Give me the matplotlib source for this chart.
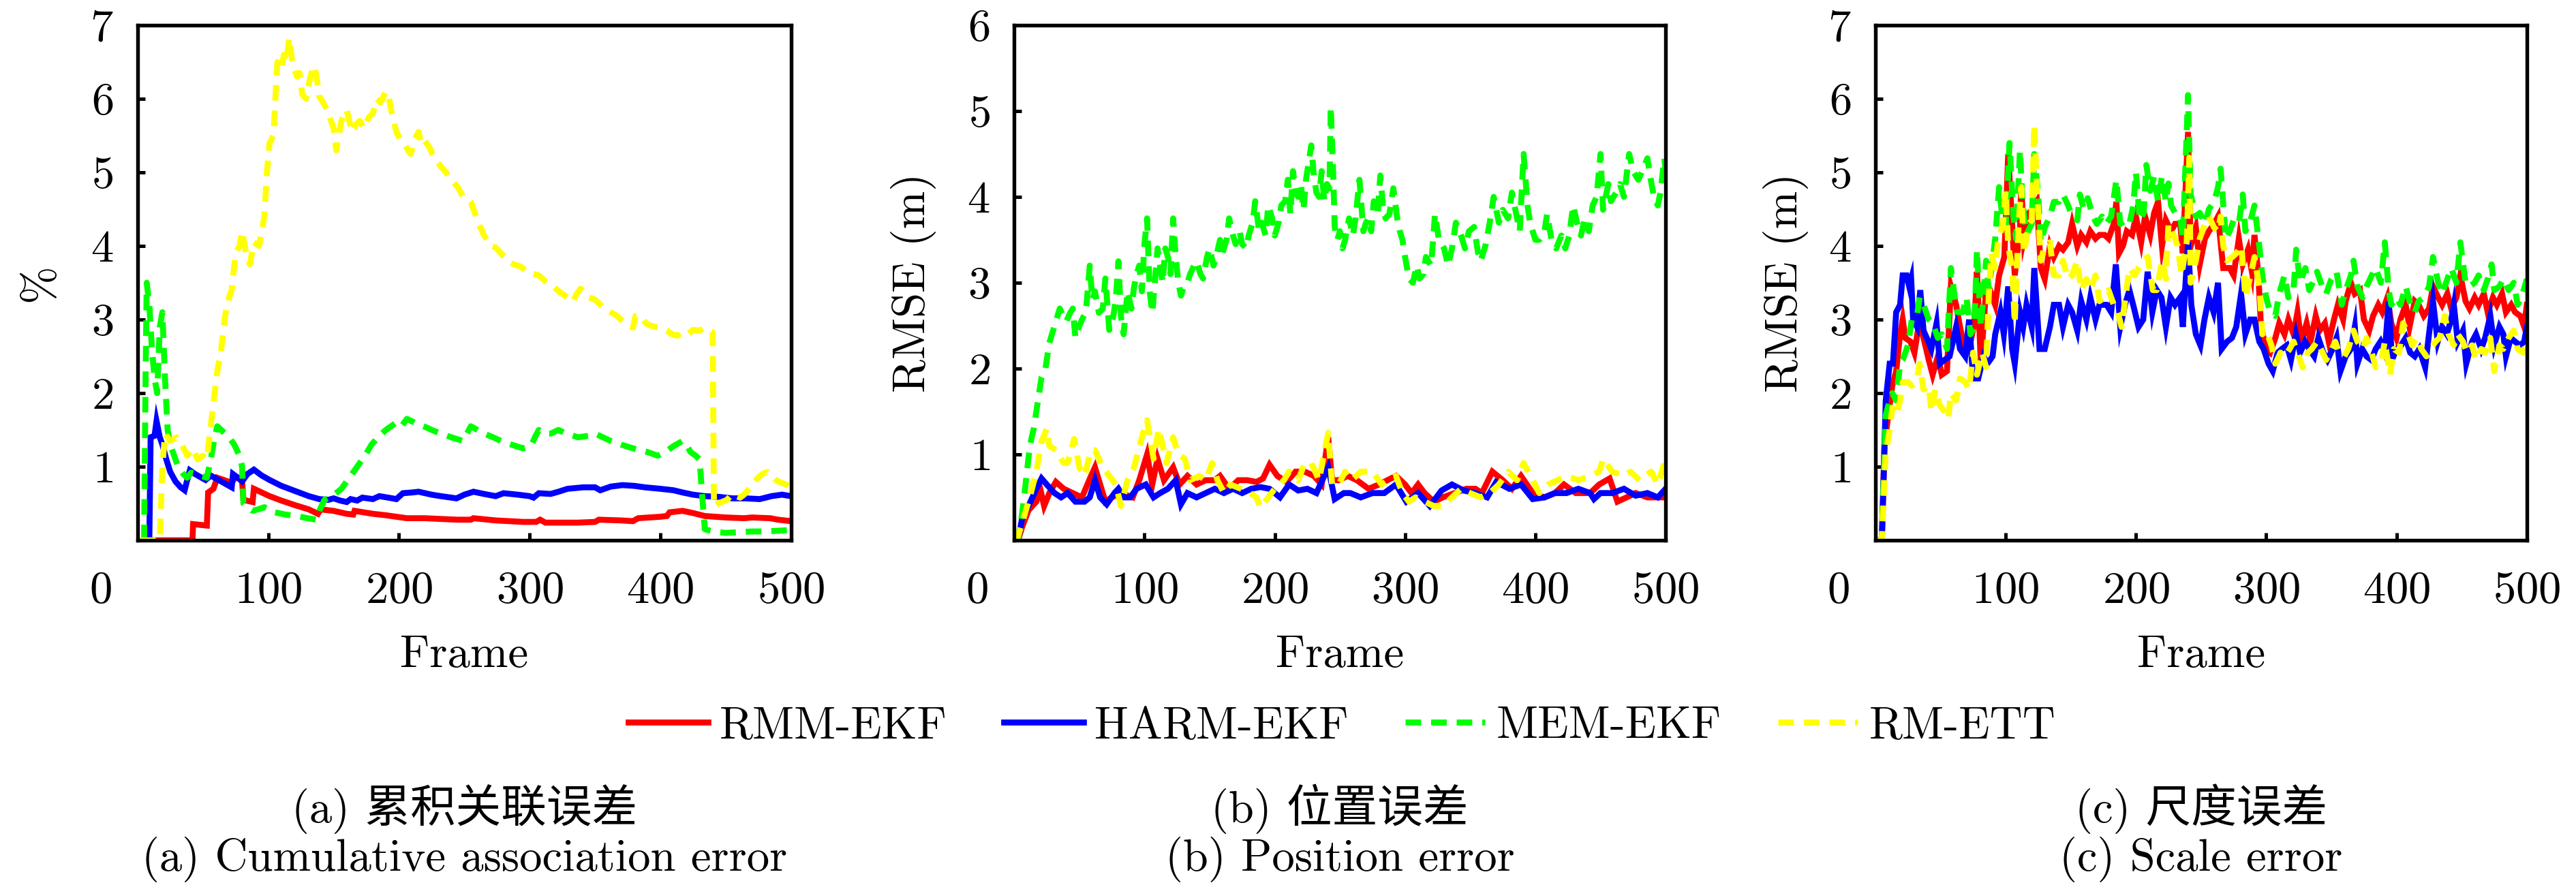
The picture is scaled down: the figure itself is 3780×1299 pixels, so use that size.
import matplotlib
matplotlib.use('Agg')
import matplotlib.pyplot as plt
from matplotlib.lines import Line2D

plt.rcParams['font.family'] = ['cmr10', 'Noto Sans CJK SC']
plt.rcParams['mathtext.fontset'] = 'cm'
plt.rcParams['axes.formatter.use_mathtext'] = True
plt.rcParams['lines.scale_dashes'] = False

# ---------------- data (frame, value) ----------------
methods = ['RMM-EKF', 'HARM-EKF', 'MEM-EKF', 'RM-ETT']
colors = ['#FF0000', '#0000FF', '#00FF00', '#FFFF00']
styles = ['solid', 'solid', 'dashed', 'dashed']

x_ticks = [100, 200, 300, 400, 500]
panel_ymax = [7, 6, 7]
panel_ylabels = ['%', 'RMSE (m)', 'RMSE (m)']
captions_cn = ['(a) 累积关联误差', '(b) 位置误差', '(c) 尺度误差']
captions_en = ['(a) Cumulative association error', '(b) Position error', '(c) Scale error']

# (a) cumulative association error
a_rmm = [(10, 0), (42, 0), (42.5, 0.22), (53, 0.2), (54, 0.65), (58, 0.7), (61, 0.85), (66, 0.82), (72, 0.78),
         (75, 0.86), (78, 0.85), (80, 0.8), (81, 0.55), (88, 0.52), (89, 0.7), (95, 0.65), (101, 0.6), (110, 0.54),
         (120, 0.48), (131, 0.42), (138, 0.36), (140, 0.42), (150, 0.4), (160, 0.36), (165, 0.35), (166, 0.4),
         (180, 0.36), (190, 0.34), (206, 0.3), (220, 0.3), (232, 0.29), (245, 0.28), (255, 0.28), (257, 0.3),
         (274, 0.27), (295, 0.25), (305, 0.25), (308, 0.28), (312, 0.24), (337, 0.24), (350, 0.25), (353, 0.28),
         (370, 0.27), (379, 0.26), (383, 0.3), (400, 0.32), (405, 0.33), (407, 0.38), (417, 0.4), (425, 0.37),
         (434, 0.33), (450, 0.31), (464, 0.3), (470, 0.31), (484, 0.3), (490, 0.28), (500, 0.26)]
a_harm = [(9, 0), (10, 1.4), (13, 1.42), (14.5, 1.62), (17, 1.4), (19, 1.3), (22, 1.1), (25, 0.93), (29, 0.8),
          (33, 0.72), (36, 0.68), (38, 0.82), (40, 0.95), (44, 0.9), (48, 0.86), (52, 0.82), (56, 0.88), (60, 0.84),
          (64, 0.8), (68, 0.76), (72, 0.72), (73, 0.9), (76, 0.86), (80, 0.8), (84, 0.9), (89, 0.96), (95, 0.88),
          (101, 0.82), (110, 0.74), (122, 0.66), (131, 0.6), (139, 0.56), (146, 0.55), (150, 0.57), (155, 0.54),
          (160, 0.52), (163, 0.56), (168, 0.54), (172, 0.58), (180, 0.56), (185, 0.6), (195, 0.57), (198, 0.56),
          (203, 0.64), (210, 0.65), (215, 0.66), (225, 0.62), (232, 0.6), (244, 0.57), (250, 0.62), (257, 0.66),
          (265, 0.63), (274, 0.6), (280, 0.64), (291, 0.62), (300, 0.6), (303, 0.58), (307, 0.64), (316, 0.63),
          (322, 0.66), (329, 0.7), (341, 0.72), (350, 0.72), (354, 0.68), (362, 0.73), (371, 0.75), (380, 0.74),
          (388, 0.72), (400, 0.7), (410, 0.68), (417, 0.65), (425, 0.62), (434, 0.6), (445, 0.59), (455, 0.57),
          (465, 0.57), (476, 0.56), (485, 0.6), (493, 0.62), (500, 0.6)]
a_mem = [(5, 0), (6, 2.0), (7, 3.5), (9, 3.2), (11, 2.6), (13, 2.2), (15, 2.0), (17, 2.9), (19, 3.1), (21, 2.2),
         (23, 1.5), (25, 1.3), (27, 1.2), (31, 1.0), (35, 0.9), (38, 0.85), (41, 0.92), (44, 0.9), (48, 0.88),
         (53, 0.85), (56, 1.1), (59, 1.4), (61, 1.55), (64, 1.5), (67, 1.45), (70, 1.4), (74, 1.3), (78, 1.15),
         (80, 1.0), (81, 0.5), (84, 0.45), (88, 0.4), (92, 0.42), (97, 0.45), (101, 0.42), (105, 0.38), (113, 0.35),
         (122, 0.33), (130, 0.3), (137, 0.28), (139, 0.4), (143, 0.55), (149, 0.6), (156, 0.7), (162, 0.85),
         (168, 1.0), (174, 1.15), (179, 1.3), (185, 1.42), (190, 1.5), (198, 1.6), (202, 1.55), (206, 1.65),
         (212, 1.6), (219, 1.55), (225, 1.5), (232, 1.45), (240, 1.4), (249, 1.35), (252, 1.45), (255, 1.55),
         (260, 1.5), (265, 1.45), (272, 1.4), (278, 1.35), (286, 1.3), (295, 1.25), (301, 1.28), (304, 1.4),
         (307, 1.5), (312, 1.45), (316, 1.45), (322, 1.5), (328, 1.45), (337, 1.4), (345, 1.42), (350, 1.45),
         (356, 1.4), (362, 1.35), (370, 1.3), (379, 1.25), (390, 1.2), (398, 1.15), (404, 1.2), (410, 1.28),
         (417, 1.35), (420, 1.3), (423, 1.2), (427, 1.15), (430, 1.1), (432, 0.6), (434, 0.15), (440, 0.12),
         (450, 0.1), (460, 0.11), (470, 0.12), (480, 0.12), (490, 0.13), (500, 0.14)]
a_rmett = [(2, 0), (17, 0), (19, 1.0), (21, 1.45), (25, 1.35), (30, 1.4), (34, 1.3), (38, 1.15), (42, 1.25),
           (46, 1.1), (50, 1.15), (53, 1.1), (57, 1.7), (61, 2.3), (64, 2.6), (67, 3.05), (70, 3.3), (72, 3.4),
           (75, 3.9), (78, 4.0), (80, 4.2), (83, 3.9), (86, 3.75), (89, 4.05), (93, 4.0), (97, 4.4), (99, 5.0),
           (101, 5.4), (104, 5.5), (105, 5.85), (107, 6.5), (110, 6.4), (112, 6.6), (114, 6.5), (116, 6.83),
           (118, 6.55), (120, 6.4), (122, 6.3), (124, 6.35), (126, 6.06), (129, 6.0), (131, 6.2), (133, 6.35),
           (135, 6.45), (137, 6.3), (139, 6.03), (142, 5.95), (145, 5.85), (148, 5.7), (150, 5.6), (152, 5.3),
           (154, 5.5), (156, 5.7), (158, 5.8), (160, 5.85), (162, 5.7), (164, 5.55), (167, 5.65), (170, 5.7),
           (173, 5.6), (177, 5.75), (180, 5.8), (183, 6.0), (186, 5.95), (190, 6.1), (192, 6.05), (194, 5.85),
           (196, 5.7), (198, 5.55), (201, 5.45), (204, 5.4), (207, 5.3), (209, 5.25), (212, 5.45), (215, 5.55),
           (217, 5.4), (219, 5.45), (223, 5.35), (227, 5.2), (232, 5.08), (236, 5.0), (240, 4.9), (245, 4.8),
           (249, 4.67), (252, 4.65), (255, 4.6), (258, 4.45), (261, 4.3), (265, 4.15), (270, 4.0), (274, 3.98),
           (278, 3.9), (281, 3.85), (284, 3.78), (288, 3.75), (293, 3.72), (296, 3.68), (299, 3.63), (303, 3.62),
           (307, 3.6), (312, 3.52), (316, 3.48), (320, 3.42), (324, 3.36), (329, 3.3), (333, 3.24), (336, 3.35),
           (339, 3.42), (342, 3.35), (345, 3.3), (349, 3.28), (352, 3.24), (357, 3.15), (362, 3.1), (367, 3.05),
           (371, 2.98), (375, 2.92), (379, 2.89), (381, 3.05), (385, 3.05), (389, 2.95), (392, 2.92), (396, 2.9),
           (400, 2.89), (405, 2.85), (409, 2.8), (413, 2.78), (417, 2.83), (421, 2.8), (425, 2.86), (430, 2.85),
           (434, 2.89), (438, 2.85), (440, 2.83), (441, 0.46), (444, 0.5), (447, 0.52), (451, 0.55), (455, 0.63),
           (458, 0.6), (461, 0.58), (464, 0.62), (468, 0.7), (471, 0.75), (474, 0.84), (478, 0.9), (482, 0.93),
           (485, 0.88), (489, 0.81), (493, 0.78), (497, 0.75), (500, 0.72)]

# (b) position error
b_rmm = [(0, 0), (3, 0), (6, 0.15), (11, 0.35), (17, 0.45), (20, 0.6), (23, 0.4), (27, 0.55), (32, 0.68),
         (38, 0.6), (45, 0.55), (52, 0.5), (59, 0.75), (62, 0.85), (66, 0.65), (70, 0.45), (75, 0.5), (82, 0.55),
         (91, 0.5), (96, 0.7), (102, 1.0), (106, 0.65), (110, 0.95), (115, 0.7), (122, 0.85), (127, 0.65),
         (133, 0.75), (140, 0.65), (147, 0.7), (154, 0.7), (158, 0.75), (165, 0.6), (172, 0.7), (179, 0.7),
         (186, 0.68), (191, 0.72), (196, 0.88), (202, 0.75), (209, 0.68), (216, 0.8), (223, 0.8), (230, 0.75),
         (236, 0.65), (241, 1.2), (244, 0.7), (249, 0.7), (256, 0.75), (263, 0.7), (272, 0.6), (280, 0.65),
         (293, 0.75), (300, 0.65), (305, 0.55), (310, 0.65), (315, 0.55), (322, 0.45), (329, 0.5), (338, 0.55),
         (347, 0.6), (354, 0.6), (359, 0.55), (367, 0.8), (375, 0.7), (382, 0.6), (389, 0.75), (398, 0.55),
         (407, 0.5), (415, 0.55), (422, 0.65), (431, 0.55), (442, 0.55), (449, 0.65), (457, 0.72), (463, 0.45),
         (470, 0.5), (477, 0.55), (486, 0.5), (494, 0.5), (500, 0.5)]
b_harm = [(0, 0), (3, 0), (6, 0.25), (11, 0.4), (17, 0.6), (21, 0.72), (25, 0.65), (31, 0.55), (36, 0.5),
          (41, 0.55), (47, 0.45), (54, 0.45), (58, 0.5), (62, 0.7), (66, 0.5), (71, 0.42), (77, 0.55), (80, 0.6),
          (84, 0.5), (89, 0.5), (94, 0.6), (101, 0.65), (107, 0.5), (112, 0.55), (118, 0.6), (124, 0.7),
          (128, 0.42), (133, 0.55), (140, 0.5), (147, 0.55), (154, 0.6), (161, 0.55), (168, 0.6), (175, 0.55),
          (182, 0.6), (189, 0.62), (196, 0.6), (204, 0.5), (211, 0.65), (218, 0.58), (225, 0.6), (232, 0.55),
          (241, 0.85), (246, 0.48), (253, 0.55), (258, 0.55), (266, 0.5), (275, 0.55), (284, 0.55), (293, 0.65),
          (301, 0.45), (310, 0.55), (319, 0.4), (328, 0.58), (336, 0.65), (345, 0.58), (354, 0.55), (363, 0.5),
          (370, 0.68), (380, 0.6), (389, 0.65), (398, 0.48), (407, 0.5), (415, 0.55), (424, 0.55), (433, 0.6),
          (442, 0.55), (445, 0.48), (450, 0.55), (459, 0.55), (468, 0.6), (477, 0.52), (486, 0.55), (494, 0.5),
          (500, 0.6)]
b_mem = [(0, 0), (3, 0), (6, 0.3), (8, 0.55), (12, 1.1), (15, 1.3), (18, 1.6), (21, 1.9), (24, 2.0), (27, 2.3),
         (32, 2.55), (35, 2.7), (38, 2.6), (40, 2.55), (43, 2.65), (45, 2.7), (47, 2.36), (50, 2.5), (53, 2.6),
         (55, 2.65), (58, 3.2), (60, 2.8), (62, 2.9), (65, 2.65), (68, 2.7), (70, 3.05), (73, 2.45), (76, 2.6),
         (78, 2.8), (80, 3.25), (82, 2.6), (84, 2.4), (87, 2.9), (90, 2.7), (92, 2.95), (94, 3.1), (96, 3.2),
         (98, 2.9), (100, 3.45), (102, 3.75), (104, 2.9), (106, 2.65), (108, 3.0), (110, 3.4), (112, 3.2),
         (114, 3.0), (116, 3.4), (118, 3.3), (120, 3.1), (122, 3.75), (124, 3.3), (126, 3.0), (128, 2.85),
         (130, 2.95), (133, 3.0), (135, 3.1), (138, 3.2), (140, 3.25), (143, 3.1), (145, 3.05), (148, 3.3),
         (150, 3.4), (153, 3.2), (155, 3.3), (158, 3.5), (160, 3.35), (163, 3.5), (165, 3.75), (168, 3.55),
         (170, 3.45), (173, 3.6), (175, 3.45), (178, 3.4), (180, 3.55), (183, 3.7), (185, 3.95), (188, 3.6),
         (190, 3.7), (193, 3.55), (195, 3.9), (198, 3.75), (200, 3.55), (203, 3.7), (205, 3.9), (208, 3.95),
         (210, 4.2), (212, 3.8), (214, 4.3), (216, 4.05), (218, 4.0), (220, 4.15), (222, 3.85), (224, 4.2),
         (226, 4.4), (228, 4.6), (230, 4.25), (232, 4.05), (234, 4.0), (236, 4.3), (238, 3.95), (240, 4.15),
         (242, 4.1), (243, 5.05), (245, 4.2), (246, 3.65), (248, 3.5), (250, 3.6), (252, 3.4), (254, 3.5),
         (257, 3.75), (260, 3.55), (262, 3.75), (265, 4.2), (268, 3.6), (270, 3.7), (272, 3.75), (274, 3.6),
         (276, 3.95), (279, 3.8), (281, 4.25), (283, 3.9), (285, 3.75), (288, 3.8), (291, 4.1), (294, 3.75),
         (296, 3.6), (298, 3.5), (300, 3.3), (303, 3.05), (306, 3.0), (309, 3.2), (311, 3.05), (314, 3.1),
         (316, 3.3), (320, 3.2), (323, 3.8), (326, 3.5), (330, 3.4), (333, 3.2), (336, 3.4), (339, 3.7),
         (343, 3.55), (346, 3.4), (349, 3.6), (353, 3.65), (356, 3.35), (358, 3.25), (362, 3.45), (365, 3.7),
         (368, 4.0), (372, 3.7), (375, 3.85), (379, 3.75), (382, 4.05), (386, 3.75), (388, 3.6), (391, 4.5),
         (394, 3.9), (396, 3.7), (400, 3.5), (403, 3.5), (407, 3.6), (409, 3.8), (413, 3.45), (416, 3.4),
         (420, 3.55), (423, 3.4), (426, 3.55), (429, 3.9), (432, 3.7), (435, 3.55), (438, 3.75), (441, 3.6),
         (444, 3.9), (447, 4.0), (450, 4.5), (452, 3.85), (456, 4.15), (458, 3.95), (462, 4.05), (465, 4.15),
         (468, 4.0), (472, 4.5), (475, 4.3), (479, 4.2), (482, 4.3), (486, 4.45), (488, 4.25), (491, 4.0),
         (494, 3.9), (496, 4.05), (499, 4.45), (500, 4.3)]
b_rmett = [(0, 0), (2, 0), (6, 0.2), (12, 0.5), (17, 0.8), (21, 1.15), (25, 1.3), (27, 1.1), (32, 1.05),
           (38, 0.9), (41, 0.9), (46, 1.18), (50, 0.85), (54, 0.75), (59, 1.05), (62, 1.05), (68, 0.85),
           (73, 0.75), (78, 0.65), (82, 0.4), (87, 0.7), (92, 0.85), (98, 1.2), (102, 1.4), (107, 0.95),
           (111, 1.3), (117, 0.9), (122, 1.2), (126, 1.0), (131, 0.95), (135, 0.7), (142, 0.75), (147, 0.7),
           (152, 0.9), (156, 0.7), (161, 0.55), (166, 0.65), (174, 0.6), (181, 0.55), (186, 0.5), (189, 0.38),
           (195, 0.5), (200, 0.6), (207, 0.7), (211, 0.8), (218, 0.7), (223, 0.9), (228, 0.9), (234, 0.7),
           (241, 1.25), (244, 0.65), (249, 0.65), (254, 0.8), (259, 0.7), (266, 0.8), (275, 0.8), (282, 0.65),
           (287, 0.7), (293, 0.75), (298, 0.55), (303, 0.45), (308, 0.5), (315, 0.45), (322, 0.4), (329, 0.4),
           (336, 0.5), (343, 0.6), (350, 0.55), (358, 0.5), (365, 0.55), (372, 0.65), (379, 0.8), (386, 0.7),
           (391, 0.9), (398, 0.7), (403, 0.55), (410, 0.65), (417, 0.7), (424, 0.75), (433, 0.7), (442, 0.75),
           (449, 0.8), (452, 0.95), (459, 0.8), (468, 0.75), (473, 0.8), (480, 0.7), (489, 0.8), (494, 0.65),
           (500, 0.95)]

# (c) scale error
c_rmm = [(0, 0), (5, 0), (7, 1.3), (10, 1.7), (13, 2.1), (16, 2.3), (19, 2.8), (21, 3.0), (23, 2.75), (27, 2.7),
         (30, 2.55), (34, 3.0), (37, 2.75), (41, 2.45), (44, 2.25), (48, 2.5), (51, 2.25), (55, 2.3), (58, 3.45),
         (62, 3.2), (65, 2.9), (69, 2.55), (72, 2.6), (76, 2.95), (78, 3.65), (81, 2.4), (85, 3.4), (88, 3.4),
         (92, 3.2), (95, 3.6), (99, 3.85), (102, 5.25), (105, 4.3), (107, 3.6), (111, 4.2), (112, 4.85),
         (114, 4.1), (118, 4.45), (121, 4.5), (124, 4.6), (127, 3.7), (130, 3.55), (134, 4.0), (137, 3.85),
         (141, 4.0), (144, 3.95), (148, 4.05), (151, 4.3), (155, 4.0), (158, 4.15), (162, 4.05), (165, 4.2),
         (169, 4.1), (172, 4.15), (176, 4.15), (179, 4.1), (183, 4.3), (185, 4.6), (187, 3.9), (190, 4.0),
         (193, 4.2), (197, 4.15), (200, 4.4), (204, 4.05), (207, 4.4), (211, 4.15), (214, 4.45), (217, 4.6),
         (220, 4.0), (223, 4.35), (227, 4.2), (230, 4.3), (234, 4.3), (236, 3.9), (240, 5.55), (242, 4.0),
         (246, 4.25), (249, 3.75), (253, 4.1), (256, 4.2), (260, 4.3), (263, 4.4), (267, 3.7), (272, 3.7),
         (275, 3.6), (279, 4.1), (282, 3.75), (286, 3.95), (289, 3.65), (291, 4.15), (294, 3.6), (296, 2.9),
         (300, 2.6), (303, 2.55), (307, 2.75), (310, 2.95), (314, 2.8), (317, 3.0), (321, 2.8), (324, 3.1),
         (327, 2.7), (331, 2.95), (334, 2.7), (338, 3.05), (341, 2.85), (345, 2.95), (348, 2.7), (352, 3.0),
         (355, 3.2), (359, 3.0), (361, 3.25), (365, 3.5), (368, 3.35), (372, 3.4), (375, 3.0), (379, 2.85),
         (382, 3.05), (386, 3.2), (389, 3.1), (393, 3.3), (396, 2.95), (400, 2.75), (403, 3.0), (407, 3.2),
         (410, 2.9), (414, 3.25), (417, 3.2), (421, 3.05), (425, 3.15), (428, 3.45), (432, 3.3), (435, 3.2),
         (439, 3.35), (442, 3.15), (446, 3.3), (449, 3.6), (453, 3.25), (456, 3.15), (460, 3.3), (463, 3.2),
         (467, 3.35), (470, 3.1), (474, 3.3), (477, 3.2), (481, 3.35), (484, 3.1), (488, 3.2), (491, 3.1),
         (495, 3.05), (498, 2.9), (500, 3.2)]
c_harm = [(0, 0), (5, 0), (6.5, 0.92), (8, 1.9), (11, 2.4), (13.5, 2.4), (16, 3.1), (19, 3.2), (21, 3.6),
          (24, 3.6), (26, 3.45), (27.5, 3.55), (29, 3.0), (32, 2.9), (34.5, 3.4), (37, 2.85), (40.7, 2.7),
          (43, 2.6), (47, 2.95), (49.5, 2.4), (53, 2.45), (57, 2.5), (62, 2.9), (65, 2.6), (69, 2.5), (72, 3.0),
          (75, 2.2), (79, 2.2), (83, 2.5), (86, 2.4), (90, 2.5), (92, 2.8), (96, 3.1), (98.6, 2.8), (102, 3.45),
          (105, 2.6), (107, 2.4), (111, 3.1), (113.5, 2.9), (116, 3.2), (120, 2.9), (122, 3.7), (126, 2.6),
          (130, 2.6), (134, 2.9), (137, 3.2), (141, 3.2), (144, 2.9), (148, 3.2), (151, 3.1), (155, 2.85),
          (158, 3.25), (162, 3.0), (165, 3.3), (169, 3.0), (172, 3.2), (177.5, 3.2), (181, 3.1), (184.6, 3.75),
          (188, 2.9), (191.6, 3.2), (195, 3.4), (198.6, 3.15), (202, 2.9), (205.6, 3.0), (209, 3.65),
          (212.6, 3.1), (216, 3.4), (219.6, 3.3), (223, 2.9), (226.6, 3.3), (230, 3.2), (234, 3.3), (236, 2.9),
          (240, 4.05), (242.5, 3.2), (246, 2.8), (249.5, 2.65), (252.6, 3.0), (256, 3.3), (259.6, 3.1),
          (263, 3.5), (265.8, 2.6), (270, 2.7), (273.7, 2.75), (277, 2.9), (280.7, 3.35), (284, 2.8),
          (287.7, 3.0), (291, 3.0), (294.7, 2.7), (298, 2.6), (301.8, 2.4), (305, 2.3), (308.8, 2.55),
          (312, 2.6), (315.8, 2.65), (319, 2.45), (322.8, 2.8), (326, 2.55), (329.8, 2.7), (333, 2.6),
          (336.8, 2.5), (340, 2.75), (343.8, 2.55), (347, 2.45), (350.9, 2.6), (354, 2.75), (357, 2.3),
          (361, 2.5), (365, 2.6), (368, 2.9), (370, 2.4), (373.7, 2.6), (377, 2.5), (380.7, 2.45), (384, 2.6),
          (387.7, 2.7), (391, 2.55), (394, 3.25), (396.5, 2.45), (400, 2.6), (403.5, 2.65), (407, 2.75),
          (410.5, 2.55), (414, 2.5), (417.5, 2.6), (422, 2.35), (424.6, 2.75), (428, 3.25), (431.6, 2.7),
          (435, 2.9), (438.6, 2.8), (442, 3.0), (444, 3.2), (447, 2.7), (451, 2.85), (453.5, 2.4), (458, 2.7),
          (461, 2.8), (465, 2.6), (468, 2.75), (472, 3.05), (475, 2.65), (479, 2.9), (482, 2.8), (484, 2.5),
          (487.7, 2.75), (491, 2.7), (494.7, 2.65), (498, 2.7), (500, 2.9)]
c_mem = [(0, 0), (5, 0), (6, 0.6), (8, 1.7), (11, 1.9), (13, 2.0), (16, 1.9), (19, 2.4), (21, 2.45), (25, 2.65),
         (28, 3.0), (32, 3.05), (34, 3.3), (37, 3.2), (41, 3.0), (44, 2.95), (48, 2.75), (51, 2.8), (55, 2.6),
         (58, 3.7), (61, 3.3), (63, 3.1), (67, 3.1), (70, 3.3), (73, 2.8), (76, 2.9), (78, 3.95), (81, 2.9),
         (85, 3.8), (87, 3.4), (90, 3.8), (92, 4.1), (95, 4.8), (98, 4.3), (100, 4.25), (103, 5.4), (106, 4.4),
         (108, 4.1), (111, 5.3), (113, 4.6), (116, 4.15), (120, 4.3), (122, 5.25), (125, 4.7), (127, 4.05),
         (130, 4.25), (134, 4.4), (137, 4.6), (141, 4.6), (144, 4.7), (148, 4.55), (151, 4.4), (155, 4.35),
         (157, 4.7), (160, 4.5), (163, 4.65), (167, 4.4), (170, 4.3), (174, 4.4), (177, 4.3), (181, 4.4),
         (185, 4.9), (188, 4.3), (192, 4.35), (195, 4.3), (198, 4.55), (200, 5.0), (203, 4.35), (206, 4.45),
         (208, 5.1), (211, 4.75), (214, 4.95), (217, 4.6), (220, 4.95), (223, 4.6), (225, 4.85), (227, 4.55),
         (230, 4.45), (234, 4.4), (236, 4.1), (240, 6.05), (242, 4.7), (246, 4.4), (249, 4.45), (253, 4.3),
         (256, 4.5), (260, 4.6), (263, 4.8), (265, 5.05), (269, 4.1), (272, 4.2), (275, 4.35), (279, 4.3),
         (282, 4.7), (284, 4.2), (288, 4.35), (291, 4.55), (295, 3.95), (297, 3.6), (300, 3.3), (303, 3.1),
         (307, 3.05), (310, 3.35), (314, 3.6), (317, 3.3), (321, 3.4), (323, 3.95), (326, 3.5), (330, 3.7),
         (333, 3.4), (337, 3.55), (339, 3.65), (343, 3.45), (346, 3.35), (350, 3.55), (354, 3.65), (358, 3.2),
         (361, 3.4), (365, 3.6), (367, 3.8), (370, 3.45), (374, 3.3), (377, 3.45), (381, 3.6), (384, 3.7),
         (388, 3.5), (391, 4.05), (394, 3.4), (396, 3.2), (400, 3.3), (403, 3.2), (407, 3.45), (410, 3.25),
         (414, 3.1), (417, 3.25), (421, 3.3), (425, 3.45), (428, 3.85), (432, 3.5), (435, 3.35), (439, 3.55),
         (442, 3.7), (446, 3.5), (449, 4.05), (453, 3.5), (456, 3.45), (460, 3.5), (463, 3.6), (467, 3.4),
         (470, 3.55), (473, 3.75), (475, 3.4), (479, 3.45), (482, 3.55), (486, 3.4), (490, 3.5), (493, 3.2),
         (496, 3.3), (500, 3.55)]
c_rmett = [(0, 0), (5, 0), (8, 1.2), (11, 1.5), (13, 1.8), (16, 1.7), (19, 1.9), (21, 2.15), (25, 2.15),
           (28, 2.1), (32, 2.2), (34, 2.4), (37, 2.05), (41, 2.1), (43, 1.75), (46, 2.05), (49, 1.85), (53, 1.75),
           (56, 1.65), (58, 2.0), (62, 1.9), (65, 2.2), (69, 2.15), (72, 2.05), (75, 2.55), (78, 2.25), (82, 2.55),
           (85, 2.35), (87, 3.3), (89, 3.9), (92, 3.7), (94, 4.05), (98, 4.3), (100, 4.75), (102, 4.0), (105, 3.7),
           (107, 2.95), (110, 4.3), (112, 4.8), (114, 3.9), (118, 4.3), (120, 4.35), (122, 5.65), (124, 4.8),
           (127, 3.8), (130, 4.0), (134, 4.05), (137, 3.6), (141, 3.6), (144, 3.8), (148, 3.55), (151, 3.6),
           (155, 3.8), (158, 3.4), (162, 3.55), (165, 3.4), (169, 3.6), (172, 3.25), (176, 3.3), (179, 3.4),
           (183, 3.2), (186, 3.1), (189, 2.9), (192, 3.3), (195, 3.7), (199, 3.6), (202, 3.7), (206, 3.8),
           (209, 3.85), (213, 3.4), (216, 3.4), (220, 3.8), (223, 3.55), (225, 4.3), (229, 4.15), (232, 4.0),
           (235, 3.6), (239, 4.05), (241, 5.2), (242, 3.5), (246, 3.8), (249, 4.1), (253, 4.3), (256, 4.4),
           (260, 4.25), (263, 4.2), (265, 4.4), (267, 4.0), (270, 3.8), (274, 3.85), (277, 3.9), (281, 4.0),
           (284, 3.3), (288, 3.6), (291, 3.85), (295, 3.4), (297, 2.8), (300, 2.85), (304, 2.65), (307, 2.4),
           (311, 2.55), (314, 2.5), (318, 2.6), (321, 2.7), (325, 2.5), (328, 2.35), (332, 2.55), (335, 2.6),
           (339, 2.7), (342, 2.6), (346, 2.45), (349, 2.55), (353, 2.7), (356, 2.55), (360, 2.5), (363, 2.6),
           (367, 2.85), (370, 2.7), (374, 2.6), (377, 2.75), (381, 2.55), (384, 2.35), (388, 2.4), (391, 2.7),
           (395, 2.25), (398, 2.6), (402, 2.55), (405, 2.95), (409, 2.8), (412, 2.65), (416, 2.75), (419, 2.6),
           (423, 2.5), (426, 2.6), (430, 2.7), (433, 2.75), (437, 3.05), (440, 2.8), (444, 2.65), (447, 2.8),
           (451, 2.7), (454, 2.55), (458, 2.65), (461, 2.45), (465, 2.6), (468, 2.55), (472, 2.75), (475, 2.3),
           (479, 2.65), (482, 2.6), (486, 2.75), (490, 2.85), (493, 2.6), (497, 2.55), (500, 2.7)]

panels = [[a_rmm, a_harm, a_mem, a_rmett],
          [b_rmm, b_harm, b_mem, b_rmett],
          [c_rmm, c_harm, c_mem, c_rmett]]

# ---------------- figure ----------------
FS = 16
LW = 2.1
fig = plt.figure(figsize=(12.6, 4.33), dpi=300)
ax_rects = [(0.0534, 0.3895, 0.2537, 0.582),
            (0.3937, 0.3895, 0.2529, 0.582),
            (0.7280, 0.3895, 0.2529, 0.582)]
ylabel_x = [-0.148, -0.154, -0.137]
dash = (5.5, 3.5)

for k, rect in enumerate(ax_rects):
    ax = fig.add_axes(rect)
    for series, col, st in zip(panels[k], colors, styles):
        xs = [p[0] for p in series]
        ys = [p[1] for p in series]
        line, = ax.plot(xs, ys, color=col, lw=LW, solid_joinstyle='miter')
        if st == 'dashed':
            line.set_dashes(dash)
    ax.set_xlim(0, 500)
    ax.set_ylim(0, panel_ymax[k])
    ax.set_xticks(x_ticks)
    ax.set_yticks(list(range(1, panel_ymax[k] + 1)))
    ax.tick_params(direction='in', length=2.6, width=1.2, labelsize=FS, top=False, right=False)
    ax.tick_params(axis='y', pad=8.5)
    ax.tick_params(axis='x', pad=11)
    for sp in ax.spines.values():
        sp.set_linewidth(1.3)
    ax.annotate('0', xy=(0, 0), xycoords='axes fraction', xytext=(-13, -11),
                textcoords='offset points', ha='center', va='top', fontsize=FS)
    ax.set_xlabel('Frame', fontsize=FS, va='center')
    ax.xaxis.set_label_coords(0.5, -0.2235)
    ax.set_ylabel(panel_ylabels[k], fontsize=FS, va='center')
    ax.yaxis.set_label_coords(ylabel_x[k], 0.5)
    cx = rect[0] + rect[2] / 2
    fig.text(cx, 0.086, captions_cn[k], ha='center', va='center', fontsize=FS)
    fig.text(cx, 0.0285, captions_en[k], ha='center', va='center', fontsize=FS)

handles = []
for col, st in zip(colors, styles):
    h = Line2D([], [], color=col, lw=LW)
    if st == 'dashed':
        h.set_dashes(dash)
    handles.append(h)
fig.legend(handles, methods, loc='center', bbox_to_anchor=(0.521, 0.179), ncol=4, frameon=False,
           fontsize=FS, handlelength=1.75, handletextpad=0.25, columnspacing=1.25)

fig.savefig('out.png', dpi=300)
